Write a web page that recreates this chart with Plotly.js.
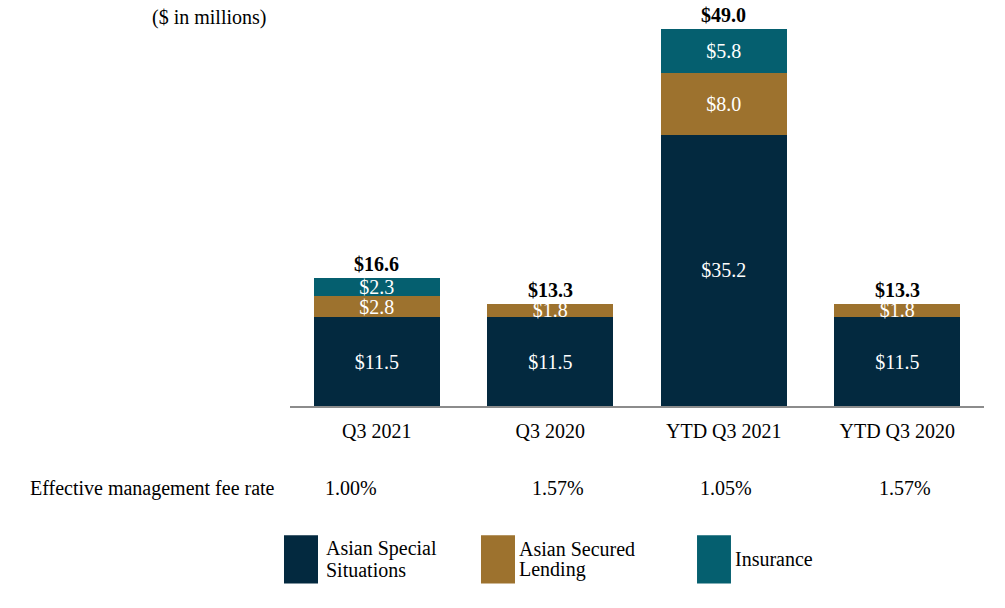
<!DOCTYPE html>
<html>
<head>
<meta charset="utf-8">
<script src="https://cdn.plot.ly/plotly-3.0.1.min.js"></script>
<style>html,body{margin:0;padding:0;background:#fff;}#chart{width:1005px;height:608px;}</style>
</head>
<body>
<div id="chart"></div>
<script>
const categories = ["Q3 2021", "Q3 2020", "YTD Q3 2021", "YTD Q3 2020"];
const asianSpecialSituations = [11.5, 11.5, 35.2, 11.5];
const asianSecuredLending = [2.8, 1.8, 8.0, 1.8];
const insurance = [2.3, null, 5.8, null];
const totals = [16.6, 13.3, 49.0, 13.3];
const feeRates = ["1.00%", "1.57%", "1.05%", "1.57%"];
const seriesNames = ["Asian Special<br>Situations", "Asian Secured<br>Lending", "Insurance"];
const colors = ["#03293f", "#9d722e", "#055f6f"];

const FONT = "Liberation Serif, Times New Roman, serif";
const FS = 20;

function seg(vals, i) {
  return {
    type: "bar", x: categories, y: vals, name: seriesNames[i],
    marker: {color: colors[i], line: {width: 0}},
    texttemplate: "$%{y:.1f}", textposition: "inside", insidetextanchor: "middle",
    constraintext: "none",
    textfont: {family: FONT, size: FS, color: "#ffffff"},
    hoverinfo: "skip", showlegend: false
  };
}
const data = [seg(asianSpecialSituations, 0), seg(asianSecuredLending, 1), seg(insurance, 2)];

const annotations = [];
categories.forEach((c, i) => {
  annotations.push({x: c, y: totals[i], xref: "x", yref: "y", text: "<b>$" + totals[i].toFixed(1) + "</b>",
    showarrow: false, yanchor: "bottom", yshift: 1, font: {family: FONT, size: FS, color: "#000"}});
});
const feeX = [0.0879, 0.3862, 0.6282, 0.8862];
feeRates.forEach((f, i) => {
  annotations.push({x: feeX[i], y: -0.206, xref: "paper", yref: "paper", text: f, showarrow: false,
    xanchor: "center", yanchor: "middle", font: {family: FONT, size: FS, color: "#000"}});
});
annotations.push({x: -0.3775, y: -0.206, xref: "paper", yref: "paper", text: "Effective management fee rate",
  showarrow: false, xanchor: "left", yanchor: "middle", font: {family: FONT, size: FS, color: "#000"}});
annotations.push({x: -0.1167, y: 0.9749, xref: "paper", yref: "paper", text: "($ in millions)",
  showarrow: false, xanchor: "center", yanchor: "middle", font: {family: FONT, size: FS, color: "#000"}});

const boxX = [[-0.00865, 0.04035], [0.2752, 0.3242], [0.5865, 0.6354]];
const textX = [0.0490, 0.3271, 0.6383];
const shapes = [];
seriesNames.forEach((n, i) => {
  shapes.push({type: "rect", xref: "paper", yref: "paper", x0: boxX[i][0], x1: boxX[i][1], y0: -0.3241, y1: -0.4447,
    fillcolor: colors[i], line: {width: 0}});
  const lines = n.split("<br>");
  const ys = lines.length === 2 ? [-0.3580, -0.4108] : [-0.3844];
  lines.forEach((ln, k) => {
    annotations.push({x: textX[i], y: ys[k], xref: "paper", yref: "paper", text: ln, showarrow: false,
      xanchor: "left", yanchor: "middle", align: "left", font: {family: FONT, size: FS, color: "#000"}});
  });
});

const layout = {
  width: 1005, height: 608,
  margin: {l: 290, r: 21, t: 7, b: 202},
  barmode: "stack", bargap: 0.274,
  paper_bgcolor: "#fff", plot_bgcolor: "#fff",
  showlegend: false,
  xaxis: {type: "category", showline: true, linecolor: "#8c8c8c", linewidth: 2, ticks: "",
    tickfont: {family: FONT, size: FS, color: "#000"}, ticklabelstandoff: 6, showgrid: false, zeroline: false,
    fixedrange: true},
  yaxis: {range: [0, 51.8], visible: false, showgrid: false, zeroline: false, fixedrange: true},
  annotations: annotations,
  shapes: shapes
};
Plotly.newPlot("chart", data, layout, {displayModeBar: false, staticPlot: true});
</script>
</body>
</html>
